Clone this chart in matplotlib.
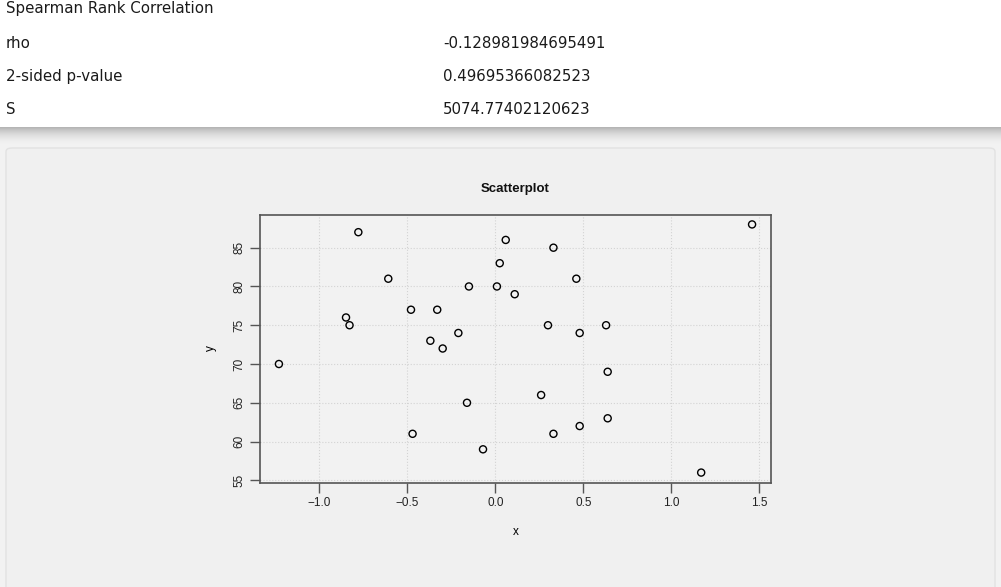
import numpy as np
import matplotlib
matplotlib.use("Agg")
import matplotlib.pyplot as plt
from matplotlib.patches import Rectangle, FancyBboxPatch

# Spearman test output
table_title = "Spearman Rank Correlation"
stat_names = ["rho", "2-sided p-value", "S"]
stat_values = ["-0.128981984695491", "0.49695366082523", "5074.77402120623"]

# scatter data
x = [-1.229, -0.778, -0.608, -0.848, -0.828, -0.479, -0.330, -0.150, 0.009, 0.025,
     -0.369, -0.299, -0.210, -0.161, -0.470, -0.070,
     1.458, 0.059, 0.330, 0.460, 0.110, 0.299, 0.479, 0.629, 0.638, 0.260,
     0.638, 0.479, 0.330, 1.169]
y = [70, 87, 81, 76, 75, 77, 77, 80, 80, 83,
     73, 72, 74, 65, 61, 59,
     88, 86, 85, 81, 79, 75, 74, 75, 69, 66,
     63, 62, 61, 56]
xticks = [-1.0, -0.5, 0.0, 0.5, 1.0, 1.5]
yticks = [55, 60, 65, 70, 75, 80, 85]

W, H = 1001, 587
fig = plt.figure(figsize=(W / 100, H / 100), dpi=100, facecolor="white")

def fx(px):
    return px / W

def fy(py):
    return 1 - py / H

# page background below the table
fig.patches.append(Rectangle((0, 0), 1, fy(127), transform=fig.transFigure,
                             facecolor="#f2f2f2", edgecolor="none", zorder=0))
# shadow under the table
n = 18
for i in range(n):
    a = 0.25 * (1 - i / n) ** 2
    fig.patches.append(Rectangle((0, fy(127 + i + 1)), 1, 1 / H, transform=fig.transFigure,
                                 facecolor="black", alpha=a, edgecolor="none", zorder=0.5))
# card
card = FancyBboxPatch((fx(6), fy(600)), fx(989), fy(148) - fy(600),
                      boxstyle="round,pad=0,rounding_size=0.006",
                      transform=fig.transFigure, facecolor="#f0f0f0",
                      edgecolor="#e2e2e2", linewidth=1.0, zorder=1)
fig.patches.append(card)

# table text
fig.text(fx(6), fy(9), table_title, fontsize=10.8, color="#1a1a1a",
         family="DejaVu Sans", va="center", ha="left")
for i, (nm, val) in enumerate(zip(stat_names, stat_values)):
    yy = 43 + i * 33.5
    fig.text(fx(6), fy(yy), nm, fontsize=10.8, color="#1a1a1a",
             family="DejaVu Sans", va="center", ha="left")
    fig.text(fx(443), fy(yy), val, fontsize=10.8, color="#1a1a1a",
             family="DejaVu Sans", va="center", ha="left")

# scatterplot
ax = fig.add_axes([fx(260), fy(482.5), fx(771) - fx(260), fy(214.5) - fy(482.5)])
ax.set_facecolor("#f2f2f2")
ax.set_zorder(2)
ax.scatter(x, y, s=26, facecolors="none", edgecolors="black", linewidths=1.0, zorder=3)

xr = max(x) - min(x)
yr = max(y) - min(y)
ax.set_xlim(min(x) - 0.04 * xr, max(x) + 0.04 * xr)
ax.set_ylim(min(y) - 0.04 * yr, max(y) + 0.04 * yr)
ax.set_xticks(xticks)
ax.set_yticks(yticks)
ax.set_xticklabels([f"{t:.1f}".replace("-", "\u2212") for t in xticks])
ax.set_yticklabels([str(t) for t in yticks], rotation=90, va="center")
ax.grid(True, color="#d3d3d3", linestyle=":", linewidth=0.8)
ax.set_axisbelow(True)
for sp in ax.spines.values():
    sp.set_color("#555555")
    sp.set_linewidth(1.2)
ax.tick_params(direction="out", length=7, width=1, color="#555555",
               labelsize=8.5, labelcolor="#222222", pad=3.5)
for lbl in ax.get_xticklabels() + ax.get_yticklabels():
    lbl.set_family("Liberation Sans")

ax.set_title("Scatterplot", fontsize=9.5, fontweight="bold", family="Liberation Sans",
             color="#111111", pad=16)
ax.set_xlabel("x", fontsize=8.5, family="Liberation Sans", labelpad=12)
ax.set_ylabel("y", fontsize=8.5, family="Liberation Sans", labelpad=12)

fig.savefig("out.png", dpi=100, facecolor=fig.get_facecolor())
